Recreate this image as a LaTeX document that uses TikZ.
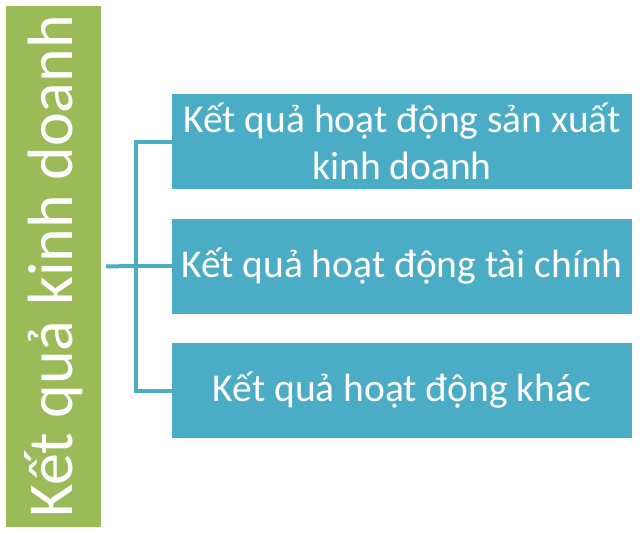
\documentclass[tikz,border=0pt]{standalone}
\usepackage{fontspec}
\setmainfont{Carlito}
\definecolor{kqgreen}{HTML}{9BBB59}
\definecolor{kqblue}{HTML}{4BACC6}

\begin{document}
\begin{tikzpicture}[x=1pt, y=-1pt,
        titlebar/.style={fill=kqgreen, text=white, rotate=90, inner sep=0pt,
            minimum width=521pt, minimum height=95pt, font=\fontsize{64}{72}\selectfont},
        itembox/.style={fill=kqblue, text=white, inner sep=0pt, align=center,
            minimum width=460pt, minimum height=95pt, font=\fontsize{39.5}{47}\selectfont},
        link/.style={draw=kqblue, line width=4pt}]
        \useasboundingbox (0,0) rectangle (640,533);

        % nodes
        \node (bar) [titlebar] at (53.5,266.5) {Kết quả kinh doanh};
        \node (res1) [itembox] at (402,141.5) {Kết quả hoạt động sản xuất\\kinh doanh};
        \node (res2) [itembox] at (402,266) {Kết quả hoạt động tài chính};
        \node (res3) [itembox] at (402,390.5) {Kết quả hoạt động khác};
        \coordinate (hub) at (136,266);

        % edges
        \draw[link, shorten <=5pt] (bar.south) -- (hub);
        \draw[link] (res1.west) -| (hub) |- (res3.west);
        \draw[link] (hub) -- (res2.west);
    \end{tikzpicture}
\end{document}
